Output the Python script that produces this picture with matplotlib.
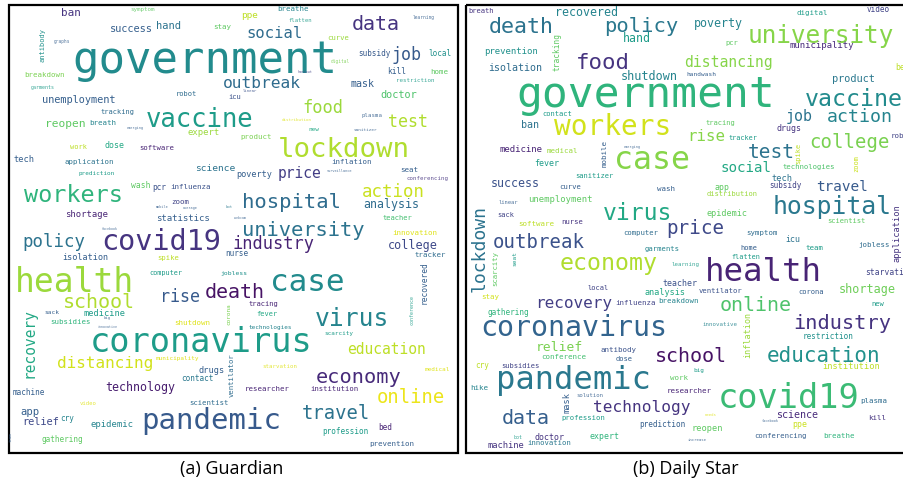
import matplotlib
matplotlib.use("Agg")
import matplotlib.pyplot as plt
from matplotlib.patches import Rectangle

# word clouds: (a) Guardian, (b) Daily Star
# words and their weights (font size in px of the original cloud)
guardian_words = ["government", "vaccine", "lockdown", "data", "social", "ppe", "breathe", "flatten",
                  "learning", "curve", "digital", "job", "subsidy", "local", "kill", "home", "restriction",
                  "outbreak", "mask", "doctor", "icu", "linear", "handout", "food", "test", "plasma",
                  "distribution", "new", "sanitizer", "product", "ban", "symptom", "success", "hand",
                  "stay", "antibody", "graphs", "breakdown", "garments", "unemployment", "robot",
                  "tracking", "reopen", "breath", "emerging", "expert", "work", "dose", "software",
                  "tech", "application", "prediction", "science", "poverty", "workers", "wash", "pcr",
                  "influenza", "zoom", "shortage", "statistics", "mobile", "average", "bot", "facebook",
                  "policy", "covid19", "isolation", "spike", "computer", "jobless", "nurse", "health",
                  "rise", "death", "case", "hospital", "university", "industry", "price", "surveillance",
                  "inflation", "seat", "conferencing", "action", "analysis", "teacher", "innovation",
                  "college", "tracker", "recovered", "webcam", "school", "recovery", "sack", "medicine",
                  "subsidies", "big", "innovative", "shutdown", "corona", "coronavirus", "tracing",
                  "fever", "technologies", "virus", "scarcity", "conference", "education", "medical",
                  "starvation", "ventilator", "municipality", "distancing", "drugs", "contact",
                  "economy", "technology", "machine", "researcher", "institution", "online", "video",
                  "scientist", "app", "pandemic", "relief", "cry", "epidemic", "travel", "profession",
                  "bed", "prevention", "gathering", "team"]
guardian_weights = [44, 25.6, 27.4, 20, 15.5, 9.4, 7.4, 5.7,
                    4.6, 7.3, 4.5, 16.6, 7.6, 7.6, 7.9, 7.5, 5.9,
                    16.2, 10, 10.2, 7.2, 4.0, 3.5, 17, 16.6, 5.8,
                    4.3, 6, 4.4, 7.4, 11, 5.9, 10.2, 10.4,
                    7.5, 7, 4.5, 7.4, 5, 10.2, 7,
                    7, 11.3, 7.5, 3.5, 8.9, 7, 8.3, 7.3,
                    8.7, 7.4, 6, 9.5, 8.5, 23.5, 8, 7.8,
                    7.5, 7.5, 8.9, 9, 3.5, 3.5, 4, 3.3,
                    17.4, 28.5, 8.5, 7.3, 6.9, 6.4, 7.6, 33,
                    16.6, 20, 31, 20.5, 20.4, 17, 14.6, 3.5,
                    7.4, 7.5, 5.8, 17.4, 11.6, 7.1, 7.5,
                    11.8, 7.4, 7.9, 3.3, 20, 14.5, 6.2, 8.7,
                    7.4, 4, 3.3, 7.5, 6, 33.7, 7.1,
                    7, 6, 24.6, 6, 5, 14.6, 6,
                    5.8, 7.3, 6, 16, 8.7, 7.6,
                    20.3, 11.6, 7.6, 7.4, 7.3, 18.9, 5.7,
                    7.3, 10.5, 29, 10.3, 7.7, 8.9, 18.9, 7.6,
                    7.7, 7.5, 7.6, 4]

dailystar_words = ["breath", "recovered", "death", "policy", "hand", "tracking", "prevention", "food",
                   "isolation", "shutdown", "government", "contact", "ban", "workers", "medicine",
                   "medical", "mobile", "fever", "case", "sanitizer", "success", "curve", "wash",
                   "linear", "unemployment", "virus", "sack", "software", "nurse", "lockdown",
                   "outbreak", "computer", "price", "scarcity", "seat", "economy", "garments",
                   "learning", "teacher", "local", "analysis", "digital", "video", "poverty",
                   "university", "pcr", "municipality", "distancing", "handwash", "bed", "product",
                   "vaccine", "job", "action", "tracing", "rise", "tracker", "drugs", "robot",
                   "college", "test", "spike", "social", "technologies", "zoom", "tech", "subsidy",
                   "travel", "app", "distribution", "hospital", "epidemic", "scientist",
                   "application", "symptom", "icu", "jobless", "home", "team", "flatten", "health",
                   "starvation", "ventilator", "corona", "shortage", "online", "new", "innovative",
                   "inflation", "industry", "restriction", "school", "education", "institution",
                   "big", "work", "researcher", "covid19", "plasma", "science", "needs", "kill",
                   "facebook", "ppe", "reopen", "conferencing", "breathe", "increase", "prediction",
                   "technology", "stay", "recovery", "influenza", "breakdown", "gathering",
                   "coronavirus", "relief", "antibody", "conference", "dose", "cry", "subsidies",
                   "pandemic", "hike", "mask", "solution", "data", "profession", "expert", "doctor",
                   "bot", "machine", "innovation", "emerging"]
dailystar_weights = [7.2, 11.6, 21.7, 20.5, 11.6, 7.9, 9, 22.4,
                     10, 11.8, 42.9, 7.2, 10, 27.8, 9,
                     7.4, 7.5, 8.4, 31.6, 7.2, 11.6, 7.3, 7.5,
                     5.5, 8.9, 23, 7, 7.5, 7.3, 18,
                     19, 7.3, 19.3, 7.3, 6.2, 23.2, 7.3,
                     5.8, 8.3, 7, 8.5, 7.4, 7.6, 11.6,
                     24.4, 7.2, 9, 14.8, 6.2, 8, 10.2,
                     23.3, 15, 18.3, 7.1, 15.8, 6.9, 8.3, 7.5,
                     19, 19.5, 7, 14.1, 7.3, 7, 8.7, 7.6,
                     14.4, 8.3, 7.2, 24.7, 8.5, 7.2,
                     8.6, 7.4, 8.3, 7.4, 7, 7.5, 6.9, 32.4,
                     8, 7.3, 7.2, 11.8, 20, 7.2, 5.8,
                     8.5, 20.3, 7.6, 20, 20.9, 8.6,
                     6, 7.5, 7.5, 33.7, 7.5, 10, 4, 7.5,
                     3.5, 8.3, 8.6, 7.3, 7.4, 4, 7.6,
                     16.1, 7.5, 16, 7.4, 7.4, 7.6,
                     28.2, 13, 7.5, 7.5, 7.1, 7.7, 7.2,
                     32.2, 7.5, 8.7, 5.6, 20, 7.3, 8.3, 8.3,
                     5, 8.8, 7.3, 3.5]

# layout of each cloud: centre x, centre y (pixels), rotation, viridis shade
guardian_layout = {
    "government": (205, 60, 0, .48), "vaccine": (200, 120, 0, .55), "lockdown": (344, 150, 0, .88),
    "data": (376, 24, 0, .15), "social": (275, 34, 0, .35), "ppe": (250, 16, 0, .9),
    "breathe": (293, 9, 0, .45), "flatten": (300, 21, 0, .55), "learning": (424, 17, 0, .3),
    "curve": (338, 38, 0, .85), "digital": (340, 61, 0, .8), "job": (407, 55, 0, .28),
    "subsidy": (374, 54, 0, .28), "local": (440, 54, 0, .5), "kill": (397, 72, 0, .3),
    "home": (439, 72, 0, .75), "restriction": (415, 81, 0, .55), "outbreak": (262, 84, 0, .35),
    "mask": (363, 84, 0, .3), "doctor": (399, 95, 0, .72), "icu": (235, 97, 0, .25),
    "linear": (250, 91, 0, .25), "handout": (305, 72, 0, .2), "food": (323, 108, 0, .85),
    "test": (408, 122, 0, .88), "plasma": (372, 115, 0, .3), "distribution": (297, 120, 0, .95),
    "new": (314, 129, 0, .6), "sanitizer": (365, 130, 0, .3), "product": (256, 137, 0, .8),
    "ban": (71, 13, 0, .15), "symptom": (143, 10, 0, .75), "success": (131, 29, 0, .3),
    "hand": (169, 26, 0, .38), "stay": (222, 27, 0, .75), "antibody": (43, 45, 90, .5),
    "graphs": (62, 41, 0, .3), "breakdown": (45, 75, 0, .8), "garments": (43, 88, 0, .55),
    "unemployment": (79, 100, 0, .3), "robot": (186, 94, 0, .35), "tracking": (118, 112, 0, .35),
    "reopen": (65, 124, 0, .75), "breath": (103, 123, 0, .45), "emerging": (135, 128, 0, .3),
    "expert": (204, 132, 0, .85), "work": (79, 147, 0, .9), "dose": (115, 145, 0, .6),
    "software": (157, 148, 0, .1), "tech": (24, 159, 0, .3), "application": (89, 162, 0, .38),
    "prediction": (97, 173, 0, .55), "science": (215, 168, 0, .38), "poverty": (254, 174, 0, .3),
    "workers": (73, 195, 0, .65), "wash": (141, 185, 0, .75), "pcr": (159, 187, 0, .25),
    "influenza": (191, 187, 0, .25), "zoom": (180, 202, 0, .2), "shortage": (87, 214, 0, .1),
    "statistics": (183, 218, 0, .3), "mobile": (162, 207, 0, .3), "average": (190, 208, 0, .3),
    "bot": (229, 207, 0, .4), "facebook": (110, 229, 0, .3), "policy": (54, 242, 0, .38),
    "covid19": (161, 242, 0, .15), "isolation": (85, 257, 0, .3), "spike": (168, 258, 0, .9),
    "computer": (166, 273, 0, .55), "jobless": (234, 273, 0, .5), "nurse": (237, 253, 0, .3),
    "health": (75, 282, 0, .85), "rise": (180, 297, 0, .28), "death": (235, 292, 0, .05),
    "case": (307, 282, 0, .48), "hospital": (292, 202, 0, .35), "university": (303, 230, 0, .38),
    "industry": (274, 244, 0, .1), "price": (300, 173, 0, .18), "surveillance": (339, 171, 0, .3),
    "inflation": (352, 162, 0, .3), "seat": (409, 170, 0, .3), "conferencing": (428, 178, 0, .15),
    "action": (393, 192, 0, .92), "analysis": (391, 204, 0, .35), "teacher": (397, 218, 0, .7),
    "innovation": (415, 233, 0, .95), "college": (413, 245, 0, .22), "tracker": (430, 255, 0, .35),
    "recovered": (424, 283, 90, .3), "webcam": (240, 218, 0, .3), "school": (99, 302, 0, .88),
    "recovery": (29, 343, 90, .6), "sack": (52, 312, 0, .3), "medicine": (105, 313, 0, .55),
    "subsidies": (71, 322, 0, .65), "big": (107, 318, 0, .3), "innovative": (108, 327, 0, .3),
    "shutdown": (192, 323, 0, .95), "corona": (229, 314, 90, .8), "coronavirus": (201, 342, 0, .55),
    "tracing": (263, 304, 0, .1), "fever": (267, 314, 0, .6), "technologies": (270, 327, 0, .45),
    "virus": (352, 319, 0, .45), "scarcity": (339, 333, 0, .55), "conference": (412, 310, 90, .55),
    "education": (387, 349, 0, .9), "medical": (437, 369, 0, .95), "starvation": (280, 366, 0, .95),
    "ventilator": (232, 375, 90, .35), "municipality": (177, 358, 0, .95),
    "distancing": (105, 363, 0, .93), "drugs": (212, 370, 0, .3), "contact": (197, 378, 0, .4),
    "economy": (359, 377, 0, .12), "technology": (140, 387, 0, .08), "machine": (29, 392, 0, .3),
    "researcher": (267, 389, 0, .1), "institution": (334, 389, 0, .1), "online": (411, 397, 0, .97),
    "video": (88, 403, 0, .95), "scientist": (209, 403, 0, .35), "app": (30, 412, 0, .3),
    "pandemic": (211, 421, 0, .28), "relief": (41, 422, 0, .22), "cry": (67, 418, 0, .45),
    "epidemic": (112, 424, 0, .45), "travel": (336, 413, 0, .38), "profession": (345, 431, 0, .55),
    "bed": (385, 427, 0, .1), "prevention": (392, 444, 0, .3), "gathering": (62, 439, 0, .75),
    "team": (11, 437, 90, .3),
}

dailystar_layout = {
    "breath": (481, 11, 0, .15), "recovered": (587, 12, 0, .45), "death": (521, 27, 0, .38),
    "policy": (641, 27, 0, .4), "hand": (637, 39, 0, .55), "tracking": (557, 52, 90, .75),
    "prevention": (511, 52, 0, .5), "food": (603, 63, 0, .15), "isolation": (515, 68, 0, .35),
    "shutdown": (649, 76, 0, .45), "government": (646, 95, 0, .65), "contact": (557, 114, 0, .55),
    "ban": (530, 125, 0, .38), "workers": (613, 127, 0, .93), "medicine": (521, 149, 0, .1),
    "medical": (562, 151, 0, .85), "mobile": (605, 153, 90, .3), "fever": (547, 163, 0, .55),
    "case": (652, 160, 0, .82), "sanitizer": (594, 176, 0, .55), "success": (515, 183, 0, .25),
    "curve": (570, 187, 0, .3), "wash": (666, 189, 0, .3), "linear": (508, 202, 0, .3),
    "unemployment": (560, 199, 0, .75), "virus": (638, 213, 0, .6), "sack": (506, 215, 0, .2),
    "software": (536, 224, 0, .9), "nurse": (572, 222, 0, .15), "lockdown": (480, 248, 90, .38),
    "outbreak": (539, 242, 0, .25), "computer": (641, 233, 0, .35), "price": (695, 228, 0, .22),
    "scarcity": (495, 268, 90, .75), "seat": (515, 258, 90, .55), "economy": (609, 263, 0, .88),
    "garments": (662, 249, 0, .45), "learning": (686, 264, 0, .55), "teacher": (680, 283, 0, .25),
    "local": (598, 288, 0, .2), "analysis": (665, 292, 0, .6), "digital": (812, 13, 0, .55),
    "video": (878, 10, 0, .2), "poverty": (718, 23, 0, .45), "university": (821, 36, 0, .82),
    "pcr": (732, 43, 0, .75), "municipality": (822, 46, 0, .12), "distancing": (729, 62, 0, .82),
    "handwash": (701, 74, 0, .3), "bed": (903, 68, 0, .9), "product": (853, 79, 0, .4),
    "vaccine": (854, 99, 0, .48), "job": (799, 116, 0, .38), "action": (860, 117, 0, .45),
    "tracing": (720, 123, 0, .75), "rise": (706, 136, 0, .82), "tracker": (743, 138, 0, .55),
    "drugs": (789, 128, 0, .15), "robot": (902, 136, 0, .2), "college": (850, 142, 0, .8),
    "test": (771, 152, 0, .38), "spike": (798, 153, 90, .9), "social": (746, 168, 0, .6),
    "technologies": (809, 167, 0, .72), "zoom": (856, 163, 90, .92), "tech": (782, 178, 0, .38),
    "subsidy": (785, 185, 0, .2), "travel": (842, 187, 0, .28), "app": (722, 187, 0, .75),
    "distribution": (732, 194, 0, .85), "hospital": (832, 207, 0, .4), "epidemic": (727, 213, 0, .75),
    "scientist": (846, 221, 0, .75), "application": (897, 233, 90, .15), "symptom": (762, 233, 0, .35),
    "icu": (793, 239, 0, .38), "jobless": (874, 245, 0, .35), "home": (749, 248, 0, .3),
    "team": (814, 248, 0, .55), "flatten": (746, 257, 0, .55), "health": (763, 272, 0, .1),
    "starvation": (890, 272, 0, .2), "ventilator": (721, 291, 0, .25), "corona": (811, 292, 0, .3),
    "shortage": (867, 289, 0, .78), "online": (756, 305, 0, .72), "new": (878, 304, 0, .55),
    "innovative": (720, 324, 0, .45), "inflation": (748, 335, 90, .85), "industry": (842, 323, 0, .15),
    "restriction": (828, 336, 0, .5), "school": (691, 356, 0, .05), "education": (824, 356, 0, .5),
    "institution": (851, 366, 0, .9), "big": (699, 370, 0, .55), "work": (679, 378, 0, .75),
    "researcher": (689, 391, 0, .1), "covid19": (789, 398, 0, .68), "plasma": (874, 401, 0, .35),
    "science": (797, 415, 0, .12), "needs": (711, 415, 0, .95), "kill": (877, 418, 0, .15),
    "facebook": (770, 421, 0, .3), "ppe": (800, 424, 0, .92), "reopen": (707, 428, 0, .75),
    "conferencing": (781, 436, 0, .3), "breathe": (839, 436, 0, .65), "increase": (697, 440, 0, .3),
    "prediction": (662, 424, 0, .3), "technology": (642, 407, 0, .15), "stay": (490, 297, 0, .93),
    "recovery": (574, 303, 0, .18), "influenza": (636, 303, 0, .2), "breakdown": (679, 301, 0, .45),
    "gathering": (508, 312, 0, .65), "coronavirus": (574, 328, 0, .32), "relief": (559, 347, 0, .8),
    "antibody": (619, 350, 0, .25), "conference": (564, 357, 0, .7), "dose": (624, 359, 0, .3),
    "cry": (482, 365, 0, .9), "subsidies": (520, 366, 0, .2), "pandemic": (574, 380, 0, .4),
    "hike": (479, 388, 0, .45), "mask": (567, 402, 90, .3), "solution": (590, 395, 0, .3),
    "data": (526, 418, 0, .3), "profession": (583, 418, 0, .55), "expert": (605, 436, 0, .65),
    "doctor": (550, 437, 0, .15), "bot": (518, 437, 0, .55), "machine": (506, 445, 0, .15),
    "innovation": (549, 443, 0, .4), "emerging": (632, 147, 0, .3),
}

captions = ["(a) Guardian", "(b) Daily Star"]

W, H = 904, 490
fig = plt.figure(figsize=(W / 100, H / 100), dpi=100)
ax = fig.add_axes([0, 0, 1, 1])
ax.set_xlim(0, W)
ax.set_ylim(H, 0)
ax.axis("off")

cmap = plt.get_cmap("viridis")
px_to_pt = 72 / 100


def draw_cloud(words, weights, layout, frame):
    ax.add_patch(frame)
    clip = Rectangle(frame.get_xy(), frame.get_width(), frame.get_height(),
                     transform=ax.transData, visible=False)
    ax.add_patch(clip)
    for w, s in zip(words, weights):
        x, y, rot, shade = layout[w]
        t = ax.text(x, y, w, fontsize=s * px_to_pt, family="DejaVu Sans Mono",
                    color=cmap(shade), rotation=rot, ha="center", va="center",
                    alpha=0.85 if s < 6 else 1.0)
        t.set_clip_path(clip)


draw_cloud(guardian_words, guardian_weights, guardian_layout,
           Rectangle((9, 5), 449, 448, fill=False, lw=1.6, ec="black"))
draw_cloud(dailystar_words, dailystar_weights, dailystar_layout,
           Rectangle((466, 5), 460, 448, fill=False, lw=1.6, ec="black"))

ax.text(232, 469, captions[0], fontsize=13, family="Open Sans", ha="center", va="center")
ax.text(686, 469, captions[1], fontsize=13, family="Open Sans", ha="center", va="center")

fig.savefig("out.png", dpi=100)
